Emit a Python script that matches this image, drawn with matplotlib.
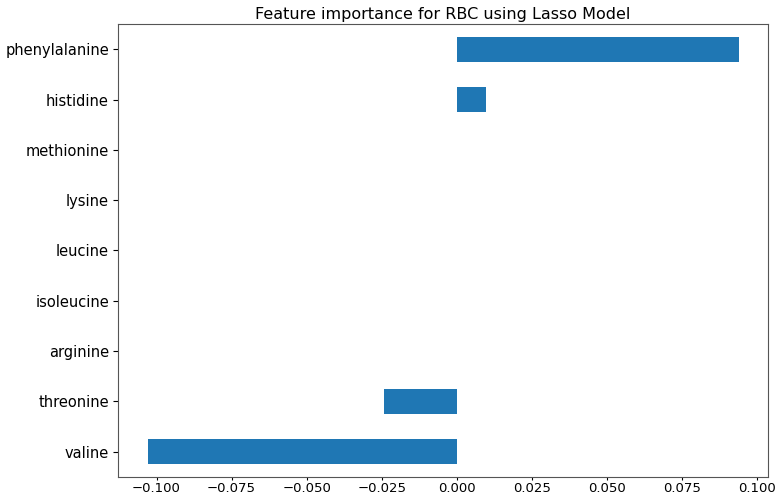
import matplotlib
matplotlib.use('Agg')
import matplotlib.pyplot as plt

# Lasso coefficients per amino acid, sorted ascending
features = ['valine', 'threonine', 'arginine', 'isoleucine', 'leucine',
            'lysine', 'methionine', 'histidine', 'phenylalanine']
coefs = [-0.1030, -0.0243, 0.0, 0.0, 0.0, 0.0, 0.0, 0.0096, 0.0938]
xticks = [-0.100, -0.075, -0.050, -0.025, 0.000, 0.025, 0.050, 0.075, 0.100]

fig = plt.figure(figsize=(7.76, 4.94), dpi=100)
ax = fig.add_axes([0.152, 0.035, 0.838, 0.916])

ax.barh(range(len(features)), coefs, height=0.5, color='#1f77b4')
ax.set_yticks(range(len(features)))
ax.set_yticklabels(features)
ax.set_ylim(-0.5, len(features) - 0.5)
ax.set_xticks(xticks)
ax.set_xticklabels([f'{t:.3f}'.replace('-', '\u2212') for t in xticks])
ax.tick_params(axis='x', labelsize=9.5, length=2.5, pad=1.5)
ax.tick_params(axis='y', labelsize=10.5, length=3.5, pad=3)
for s in ax.spines.values():
    s.set_color('#555555')
ax.set_title('Feature importance for RBC using Lasso Model', fontsize=11.5, pad=4)

fig.savefig('out.png', dpi=100)
